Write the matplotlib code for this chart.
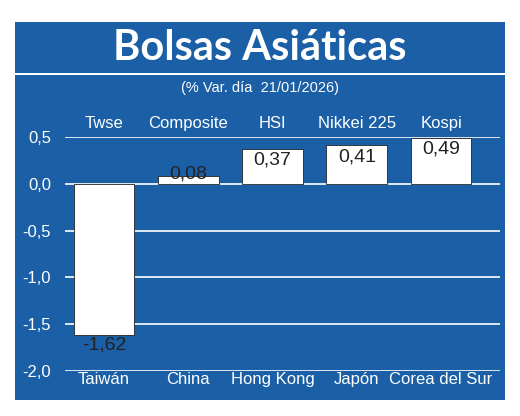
import matplotlib
matplotlib.use("Agg")
import matplotlib.pyplot as plt
from matplotlib.patches import Rectangle

indices = ["Twse", "Composite", "HSI", "Nikkei 225", "Kospi"]
countries = ["Taiwán", "China", "Hong Kong", "Japón", "Corea del Sur"]
values = [-1.62, 0.08, 0.37, 0.41, 0.49]
yticks = [0.5, 0.0, -0.5, -1.0, -1.5, -2.0]

BLUE = "#1b5fa6"
plt.rcParams['font.family'] = ['Liberation Sans Narrow', 'Liberation Sans', 'DejaVu Sans']
W, H = 520, 416
fig = plt.figure(figsize=(W/100, H/100), dpi=100)
fig.patch.set_facecolor("white")
fig.add_artist(Rectangle((15/W, 1-400/H), 490/W, 378/H, transform=fig.transFigure,
                         facecolor=BLUE, edgecolor="none", zorder=0))
fig.add_artist(Rectangle((15/W, 1-75/H), 490/W, 2/H, transform=fig.transFigure,
                         facecolor="white", edgecolor="none", zorder=1))
fig.text(0.5, 1-48/H, "Bolsas Asiáticas", color="white", fontsize=30, fontweight="bold",
         ha="center", va="center", family=['Lato', 'DejaVu Sans'])
fig.text(0.5, 1-88/H, "(% Var. día  21/01/2026)", color="white", fontsize=10.5,
         ha="center", va="center")

ax = fig.add_axes([65/W, 1-371/H, 435/W, 234/H])
ax.set_facecolor("none")
x = range(len(values))
ax.bar(x, values, width=0.72, color="white", edgecolor="#222222", linewidth=0.6, zorder=3)
ax.set_ylim(-2.0, 0.5)
ax.set_xlim(-0.463, 4.70)
for y in yticks:
    ax.axhline(y, color="white", linewidth=1.2, zorder=1)
ax.set_yticks(yticks)
ax.set_yticklabels([f"{v:.1f}".replace(".", ",") for v in yticks], color="white", fontsize=12)
ax.tick_params(axis="y", length=0, pad=10)
ax.set_xticks([])
for s in ax.spines.values():
    s.set_visible(False)
for i, v in enumerate(values):
    ty = v - 0.1 if v < 0 else max(v - 0.12, 0.1)
    ax.text(i, ty, f"{v:.2f}".replace(".", ","), ha="center", va="center",
            fontsize=14, color="#222222", zorder=4)
    ax.text(i, 0.64, indices[i], ha="center", va="center", fontsize=12, color="white")
    ax.text(i, -2.09, countries[i], ha="center", va="center", fontsize=12, color="white")
fig.savefig("out.png", dpi=100, facecolor=fig.get_facecolor())
